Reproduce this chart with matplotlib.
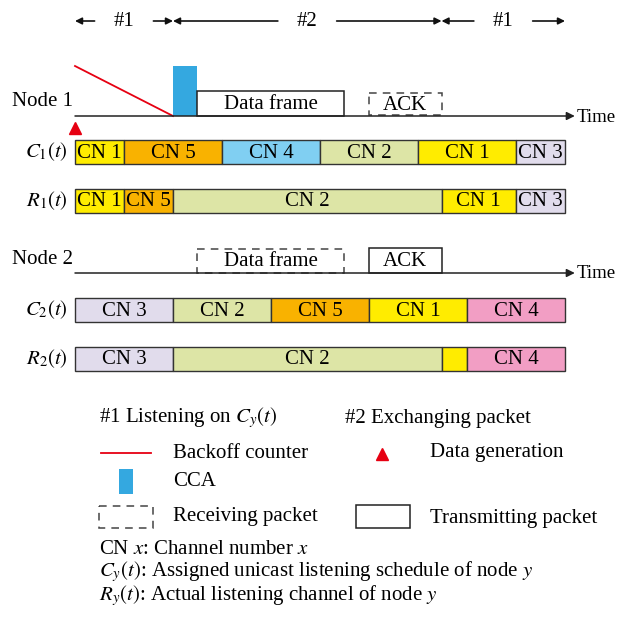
import matplotlib.pyplot as plt
from matplotlib.patches import Rectangle

plt.rcParams['font.family'] = ['Liberation Serif', 'DejaVu Serif']
plt.rcParams['mathtext.fontset'] = 'stix'

# listening schedules: (channel, duration in slots)
c1_chan = [1, 5, 4, 2, 1, 3]
c1_dur = [0.5, 1, 1, 1, 1, 0.5]
r1_chan = [1, 5, 2, 1, 3]
r1_dur = [0.5, 0.5, 2.74, 0.76, 0.5]
c2_chan = [3, 2, 5, 1, 4]
c2_dur = [1, 1, 1, 1, 1]
r2_chan = [3, 2, 1, 4]
r2_dur = [1, 2.74, 0.26, 1]
r2_text = ['CN 3', 'CN 2', '', 'CN 4']

# phases on top: (label, start, end)
phase_lbl = ['#1', '#2', '#1']
phase_start = [0, 1, 3.74]
phase_end = [1, 3.74, 5]

# node events (slot units)
backoff = (0, 1)
cca = (1, 1.245)
data_frame = (1.245, 2.745)
ack = (3.0, 3.74)
data_gen = 0

col1 = {1: '#FFEC00', 2: '#DDE5A6', 3: '#E1DCEC', 4: '#80CFF2', 5: '#F9B200'}
col2 = dict(col1)
col2[4] = '#F29EC4'
red = '#E60012'
blue = '#34A8E0'
edge = '#333333'

W, H = 617, 625
fig = plt.figure(figsize=(W / 100, H / 100), dpi=100)
ax = fig.add_axes([0, 0, 1, 1])
px = 98.0  # pixels per slot
x0 = 75
ax.set_xlim(-x0 / px, (W - x0) / px)
ax.set_ylim(H, 0)
ax.axis('off')

FS = 15


def schedule(y, chans, durs, cols, texts=None, h=24):
    t = 0
    for i, (c, d) in enumerate(zip(chans, durs)):
        ax.add_patch(Rectangle((t, y), d, h, facecolor=cols[c],
                               edgecolor=edge, lw=1))
        lbl = texts[i] if texts else f'CN {c}'
        ax.text(t + d / 2, y + h / 2 + 1, lbl, ha='center', va='center',
                fontsize=FS)
        t += d


def box(span, y, h, dashed, label):
    ls = (0, (5, 4)) if dashed else '-'
    ax.add_patch(Rectangle((span[0], y), span[1] - span[0], h, fill=False,
                           edgecolor='#222222' if not dashed else '#444444',
                           lw=1.1, linestyle=ls))
    ax.text((span[0] + span[1]) / 2, y + h / 2 + 1, label, ha='center',
            va='center', fontsize=FS)


def time_axis(y):
    ax.annotate('', xy=(5.10, y), xytext=(0, y),
                arrowprops=dict(arrowstyle='-|>', color='#222222', lw=1.1,
                                mutation_scale=12, shrinkA=0, shrinkB=0))
    ax.text(5.115, y + 1, 'Time', ha='left', va='center', fontsize=13.5)


# top phase arrows
gap = 0.3
for lbl, s, e in zip(phase_lbl, phase_start, phase_end):
    m = (s + e) / 2
    ax.text(m, 21, lbl, ha='center', va='center', fontsize=FS)
    for a, b in [(m - gap, s), (m + gap, e)]:
        ax.annotate('', xy=(b, 21), xytext=(a, 21),
                    arrowprops=dict(arrowstyle='-|>', color='#111111', lw=1.2,
                                    mutation_scale=10, shrinkA=0, shrinkB=0))

# node 1
ax.text(-x0 / px + 12 / px, 102, 'Node 1', ha='left', va='center', fontsize=FS)
ax.plot(backoff, [66, 116], color=red, lw=1.3)
ax.add_patch(Rectangle((cca[0], 66), cca[1] - cca[0], 50, facecolor=blue,
                       edgecolor='none'))
box(data_frame, 91, 25, False, 'Data frame')
box(ack, 93, 22, True, 'ACK')
time_axis(116)
ax.plot([data_gen], [128], marker='^', color=red, ms=9, lw=0)

schedule(140, c1_chan, c1_dur, col1)
schedule(189, r1_chan, r1_dur, col1)
ax.text(-7 / px, 152, r'$C_1(t)$', ha='right', va='center', fontsize=FS)
ax.text(-7 / px, 201, r'$R_1(t)$', ha='right', va='center', fontsize=FS)

# node 2
ax.text(-x0 / px + 12 / px, 260, 'Node 2', ha='left', va='center', fontsize=FS)
box(data_frame, 249, 24, True, 'Data frame')
box(ack, 248, 25, False, 'ACK')
time_axis(273)

schedule(298, c2_chan, c2_dur, col2)
schedule(347, r2_chan, r2_dur, col2, r2_text)
ax.text(-7 / px, 310, r'$C_2(t)$', ha='right', va='center', fontsize=FS)
ax.text(-7 / px, 359, r'$R_2(t)$', ha='right', va='center', fontsize=FS)

# legend (pixel coordinates)
lg = fig.add_axes([0, 0, 1, 1])
lg.set_xlim(0, W)
lg.set_ylim(H, 0)
lg.axis('off')
lg.patch.set_alpha(0)

lg.text(99, 418, r'#1 Listening on $C_y(t)$', va='center', fontsize=FS)
lg.text(345, 418, '#2 Exchanging packet', va='center', fontsize=FS)
lg.plot([101, 151], [453, 453], color=red, lw=1.3)
lg.text(173, 453, 'Backoff counter', va='center', fontsize=FS)
lg.plot([382], [454], marker='^', color=red, ms=9, lw=0)
lg.text(430, 453, 'Data generation', va='center', fontsize=FS)
lg.add_patch(Rectangle((119, 469), 14, 25, facecolor=blue, edgecolor='none'))
lg.text(173, 481, 'CCA', va='center', fontsize=FS)
lg.add_patch(Rectangle((99, 506), 54, 22, fill=False, edgecolor='#444444',
                       lw=1.1, linestyle=(0, (5, 4))))
lg.text(173, 517, 'Receiving packet', va='center', fontsize=FS)
lg.add_patch(Rectangle((356, 505), 54, 23, fill=False, edgecolor='#222222',
                       lw=1.1))
lg.text(430, 518, 'Transmitting packet', va='center', fontsize=FS)

lg.text(99, 549, r'CN $x$: Channel number $x$', va='center', fontsize=FS)
lg.text(99, 572, r'$C_y(t)$: Assigned unicast listening schedule of node $y$',
        va='center', fontsize=FS)
lg.text(99, 596, r'$R_y(t)$: Actual listening channel of node $y$',
        va='center', fontsize=FS)

fig.savefig('out.png', dpi=100, facecolor='white')
